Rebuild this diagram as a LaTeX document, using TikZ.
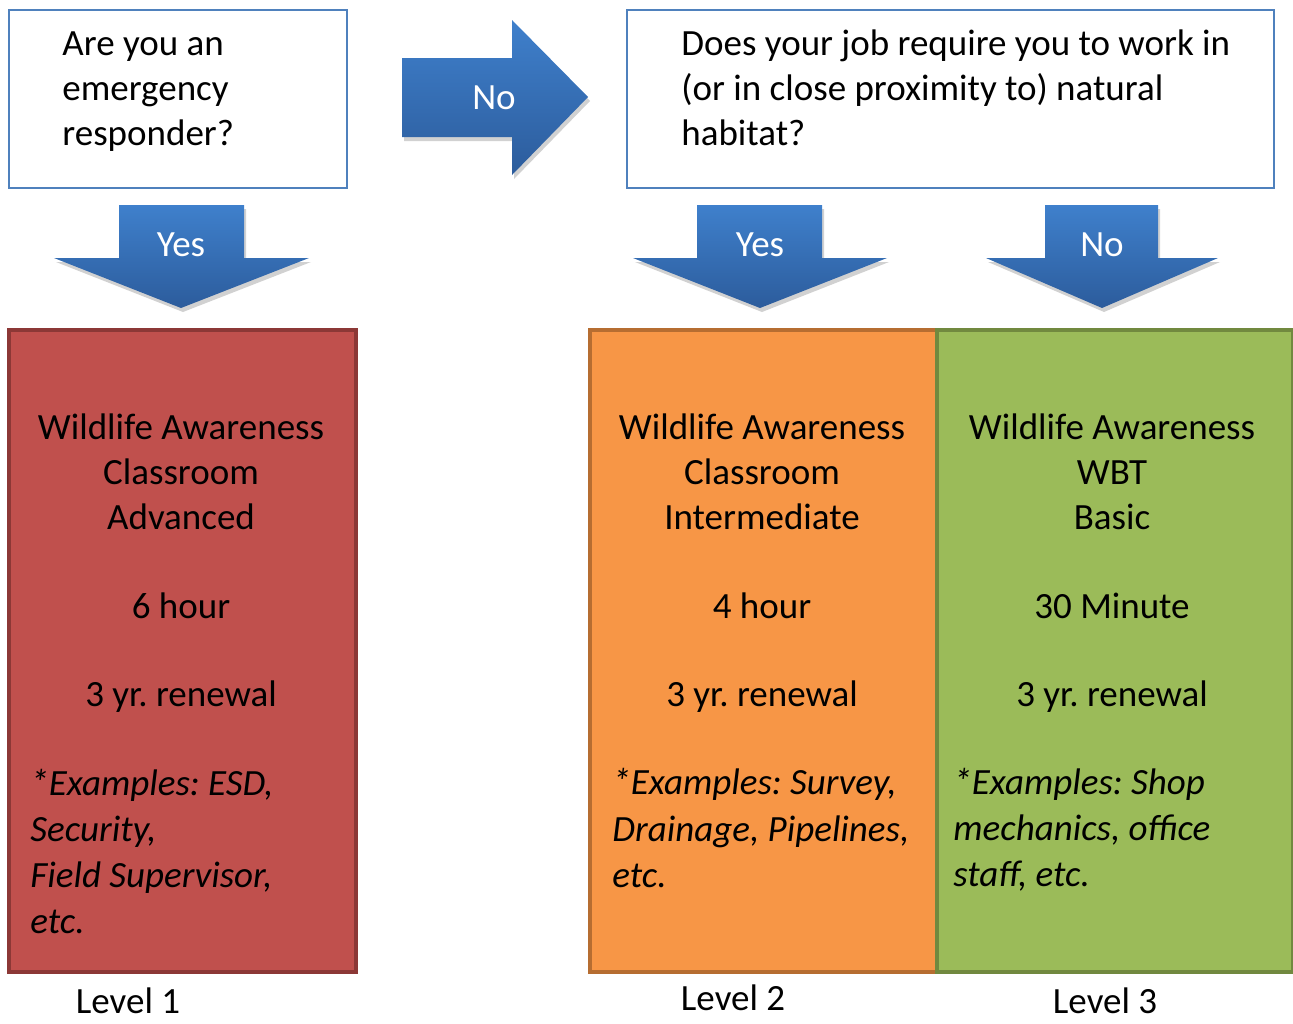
\documentclass[tikz,border=0pt]{standalone}
\usepackage{fontspec}
\setmainfont{Carlito}
\usetikzlibrary{positioning}
\frenchspacing
\definecolor{qblue}{HTML}{4F81BD}
\definecolor{arrtop}{HTML}{3F80CC}
\definecolor{arrbot}{HTML}{2C5C9C}
\definecolor{redfill}{HTML}{C0504D}
\definecolor{redline}{HTML}{8C3836}
\definecolor{orfill}{HTML}{F79646}
\definecolor{orline}{HTML}{B66D31}
\definecolor{grfill}{HTML}{9BBB59}
\definecolor{grline}{HTML}{71893F}
\tikzset{
  question/.style={draw=qblue, line width=1pt, fill=white, anchor=north west, inner sep=0},
  levelbox/.style={line width=2pt, anchor=north west, inner sep=0, minimum height=321pt},
  bigtext/.style={font=\fontsize{18.5}{22.5}\selectfont},
  qtext/.style={bigtext, align=left, anchor=west, inner sep=0},
  ctext/.style={bigtext, align=center, inner sep=0},
  etext/.style={font=\fontsize{18.5}{23}\selectfont\itshape, align=left, anchor=west, inner sep=0},
  leveltag/.style={bigtext, inner sep=0, anchor=base},
  blockarrow/.style={top color=arrtop, bottom color=arrbot, draw=none},
  arrshadow/.style={fill=black, opacity=0.18},
  arrlabel/.style={bigtext, text=white, inner sep=0}
}
\begin{document}
\begin{tikzpicture}[x=0.5pt,y=-0.5pt]
    \useasboundingbox (0,0) rectangle (1293,1023);
    % questions
    \node[question, minimum width=169pt, minimum height=89pt] (q1) at (8,9) {};
    \node[question, minimum width=323.5pt, minimum height=89pt] (q2) at (626,9) {};
    \node[qtext] (q1t) at (62,92) {Are you an\\emergency\\responder?};
    \node[qtext] (q2t) at (681,88) {Does your job require you to work in\\(or in close proximity to) natural\\habitat?};
    % arrows
    \fill[arrshadow] (404,62) -- (514,62) -- (514,24) -- (590,101) -- (514,179) -- (514,141) -- (404,141) -- cycle;
    \shade[blockarrow] (402,58) -- (512,58) -- (512,20) -- (588,97) -- (512,175) -- (512,137) -- (402,137) -- cycle;
    \node[arrlabel] (no1) at (494,98) {No};
    \fill[arrshadow] (121,209) -- (246,209) -- (246,262) -- (311,262) -- (183,312) -- (56,262) -- (121,262) -- cycle;
    \shade[blockarrow] (119,205) -- (244,205) -- (244,258) -- (309,258) -- (181,308) -- (54,258) -- (119,258) -- cycle;
    \node[arrlabel] (yes1) at (181,245) {Yes};
    \fill[arrshadow] (699,209) -- (824,209) -- (824,262) -- (889,262) -- (762,312) -- (635,262) -- (699,262) -- cycle;
    \shade[blockarrow] (697,205) -- (822,205) -- (822,258) -- (887,258) -- (760,308) -- (633,258) -- (697,258) -- cycle;
    \node[arrlabel] (yes2) at (760,245) {Yes};
    \fill[arrshadow] (1047,209) -- (1160,209) -- (1160,262) -- (1220,262) -- (1104,312) -- (988,262) -- (1047,262) -- cycle;
    \shade[blockarrow] (1045,205) -- (1158,205) -- (1158,258) -- (1218,258) -- (1102,308) -- (986,258) -- (1045,258) -- cycle;
    \node[arrlabel] (no2) at (1102,245) {No};
    % levels
    \node[levelbox, fill=redfill, draw=redline, minimum width=173.5pt] (lv1) at (7,328) {};
    \node[levelbox, fill=orfill, draw=orline, minimum width=173.5pt] (lv2) at (588,328) {};
    \node[levelbox, fill=grfill, draw=grline, minimum width=178pt] (lv3) at (935,328) {};
    \node[ctext] (lv1a) at (181,472) {Wildlife Awareness\\Classroom\\Advanced};
    \node[ctext] (lv1b) at (181,606) {6 hour};
    \node[ctext] (lv1c) at (181,697) {3 yr. renewal};
    \node[etext] (lv1d) at (30,851) {*Examples: ESD,\\Security,\\Field Supervisor,\\etc.};
    \node[ctext] (lv2a) at (762,472) {Wildlife Awareness\\Classroom\\Intermediate};
    \node[ctext] (lv2b) at (762,606) {4 hour};
    \node[ctext] (lv2c) at (762,697) {3 yr. renewal};
    \node[etext] (lv2d) at (612,828) {*Examples: Survey,\\Drainage, Pipelines,\\etc.};
    \node[ctext] (lv3a) at (1112,472) {Wildlife Awareness\\WBT\\Basic};
    \node[ctext] (lv3b) at (1112,606) {30 Minute};
    \node[ctext] (lv3c) at (1112,697) {3 yr. renewal};
    \node[etext] (lv3d) at (953,830) {*Examples: Shop\\mechanics, office\\staff, etc.};
    \node[leveltag] (l1) at (128,1013) {Level 1};
    \node[leveltag] (l2) at (733,1010) {Level 2};
    \node[leveltag] (l3) at (1105,1013) {Level 3};
\end{tikzpicture}
\end{document}
